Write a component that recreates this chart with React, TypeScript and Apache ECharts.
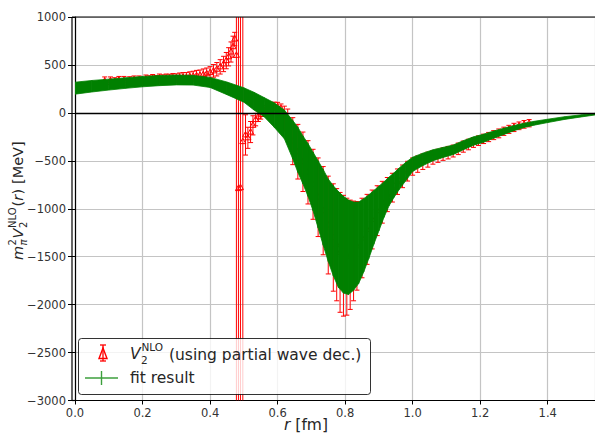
import { useEffect, useRef } from "react";
import * as echarts from "echarts";

const X_MIN = 0;
const X_MAX = 1.54;
const Y_MIN = -3000;
const Y_MAX = 1000;

// lattice points (red), value and error
const DATA_R = [
  0.088, 0.105, 0.118, 0.13, 0.145, 0.162, 0.175, 0.19, 0.2, 0.21, 0.22, 0.23, 0.24, 0.25, 0.26, 0.27, 0.28, 0.29, 0.3,
  0.31, 0.32, 0.33, 0.34, 0.35, 0.36, 0.37, 0.38, 0.39, 0.4, 0.41, 0.42, 0.43, 0.44, 0.448, 0.455, 0.462, 0.468, 0.473,
  0.478, 0.484, 0.49, 0.497,
  0.505, 0.512, 0.52, 0.527, 0.535, 0.543, 0.55, 0.558, 0.565, 0.573, 0.58, 0.59, 0.6, 0.61, 0.62, 0.63,
  0.645, 0.66, 0.675, 0.69, 0.705, 0.72, 0.735, 0.75, 0.765, 0.775, 0.785, 0.795, 0.805, 0.815, 0.825, 0.835, 0.85,
  0.865, 0.88, 0.895, 0.91, 0.925, 0.94, 0.955, 0.97, 0.985, 1.0, 1.015, 1.03, 1.045, 1.06, 1.075, 1.09, 1.105, 1.12,
  1.135, 1.15, 1.165, 1.18, 1.195, 1.21, 1.225, 1.24, 1.255, 1.27, 1.285, 1.3, 1.315, 1.33, 1.345,
];
const DATA_V = [
  330, 335, 325, 340, 335, 335, 345, 340, 330, 350, 345, 355, 350, 360, 355, 360, 358, 365, 362,
  368, 372, 370, 378, 382, 388, 392, 400, 408, 420, 438, 455, 480, 510, 545, 585, 635, 690, 770,
  600, -790, -780, -300,
  -230, -260, -200, -130, -70, -35, -15, 10, 30, 48, 60, 70, 65, 45, -60, -110,
  -295, -405, -510, -620, -745, -880, -1020, -1170, -1300, -1375, -1455, -1490, -1500, -1480, -1440, -1387, -1305,
  -1215, -1112, -1020, -932, -852, -780, -718, -662, -608, -560, -535, -510, -488, -465, -448, -430, -415, -398,
  -375, -352, -330, -309, -290, -271, -252, -232, -214, -192, -172, -152, -135, -120, -108,
];
const DATA_E = [
  45, 40, 42, 40, 45, 42, 40, 45, 40, 45, 42, 45, 40, 45, 42, 45, 45, 45, 45,
  48, 48, 50, 50, 52, 55, 55, 58, 60, 62, 66, 70, 75, 80, 85, 95, 105, 110, 70,
  5000, 4800, 4500, 4000,
  210, 110, 110, 100, 65, 55, 50, 48, 45, 45, 45, 42, 45, 48, 130, 150,
  245, 285, 310, 330, 365, 410, 460, 510, 560, 585, 625, 630, 610, 570, 520, 462, 415,
  365, 307, 260, 218, 178, 150, 133, 118, 103, 90, 85, 80, 78, 70, 68, 65, 65, 62,
  60, 58, 55, 51, 50, 49, 48, 47, 46, 43, 42, 43, 40, 40, 38,
];

// fit result band (green): upper and lower edge
const FIT_R = [
  0.0, 0.05, 0.1, 0.15, 0.2, 0.25, 0.3, 0.35, 0.4, 0.45, 0.5, 0.53, 0.56, 0.59, 0.62, 0.645, 0.66, 0.675, 0.69, 0.705,
  0.72, 0.735, 0.75, 0.765, 0.78, 0.795, 0.81, 0.825, 0.84, 0.855, 0.87, 0.885, 0.9, 0.915, 0.93, 0.945, 0.96, 0.98,
  1.0, 1.03, 1.06, 1.09, 1.12, 1.15, 1.18, 1.21, 1.24, 1.27, 1.3, 1.33, 1.36, 1.4, 1.45, 1.5, 1.54,
];
const FIT_HI = [
  320, 338, 352, 366, 380, 390, 395, 392, 370, 322, 262, 215, 160, 105, 30, -80, -150, -240, -320, -410,
  -500, -590, -690, -760, -820, -870, -910, -930, -930, -895, -855, -810, -765, -720, -670, -625, -575, -515,
  -462, -420, -385, -360, -335, -290, -250, -222, -190, -160, -132, -107, -88, -66, -40, -20, -5,
];
const FIT_LO = [
  195, 218, 238, 256, 272, 284, 292, 290, 265, 190, 112, 30, -40, -150, -270, -480, -620, -740, -870, -1020,
  -1200, -1380, -1550, -1700, -1820, -1880, -1895, -1850, -1780, -1660, -1520, -1370, -1230, -1090, -970, -880, -800, -705,
  -611, -550, -500, -465, -435, -385, -338, -306, -265, -225, -186, -152, -128, -101, -68, -42, -22,
];

const FONT = "DejaVu Sans";
const RED = "#ff0000";
const GREEN = "#008000";
const TXT = "#262626";

const fmtMinus = (s: string) => s.replace("-", "\u2212");

function txt(x: number, y: number, text: string, size: number, italic = false, extra: any = {}) {
  return {
    type: "text",
    x,
    y,
    z: 110,
    style: {
      text,
      fontSize: size,
      fontFamily: FONT,
      fontStyle: italic ? "italic" : "normal",
      fill: TXT,
      align: "left",
      verticalAlign: "middle",
      textAlign: "left",
      textVerticalAlign: "middle",
      ...extra,
    },
  };
}

export default function App() {
  const ref = useRef<HTMLDivElement>(null);

  useEffect(() => {
    if (!ref.current) return;
    const chart = echarts.init(ref.current, null, { renderer: "svg" });
    const clampY = (v: number) => Math.max(Y_MIN, Math.min(Y_MAX, v));

    const pointData = DATA_R.map((r, i) => [r, DATA_V[i], DATA_E[i]]);
    const bandData = FIT_R.slice(0, -1).map((r, i) => [
      r,
      FIT_LO[i],
      FIT_HI[i],
      FIT_R[i + 1],
      FIT_LO[i + 1],
      FIT_HI[i + 1],
    ]);

    const gridLine = { show: true, lineStyle: { color: "#c4c4c4", width: 1.2 } };

    const option: any = {
      animation: false,
      textStyle: { fontFamily: FONT },
      grid: {
        left: 75,
        top: 17,
        right: 0,
        bottom: 34.5,
        containLabel: false,
        outerBoundsMode: "none",
      },
      xAxis: {
        type: "value",
        min: X_MIN,
        max: X_MAX,
        interval: 0.2,
        axisLine: { show: true, onZero: false, lineStyle: { color: "#000", width: 1.2 } },
        axisTick: { show: true, length: 4, lineStyle: { color: "#000" } },
        axisLabel: {
          color: "#333",
          fontSize: 11.5,
          fontFamily: FONT,
          margin: 6,
          showMaxLabel: false,
          formatter: (v: number) => v.toFixed(1),
        },
        splitLine: gridLine,
      },
      yAxis: {
        type: "value",
        min: Y_MIN,
        max: Y_MAX,
        interval: 500,
        axisLine: { show: true, onZero: false, lineStyle: { color: "#000", width: 1.2 } },
        axisTick: { show: true, length: 7, lineStyle: { color: "#000" } },
        axisLabel: {
          color: "#333",
          fontSize: 11.5,
          fontFamily: FONT,
          margin: 9,
          formatter: (v: number) => fmtMinus(String(v)),
        },
        splitLine: gridLine,
      },
      series: [
        {
          type: "line",
          data: [],
          silent: true,
          markLine: {
            silent: true,
            symbol: "none",
            label: { show: false },
            lineStyle: { color: "#000", type: "solid", width: 1.3 },
            data: [{ yAxis: 0 }],
          },
        },
        {
          type: "custom",
          name: "data",
          clip: true,
          encode: { x: 0, y: 1 },
          data: pointData,
          renderItem: (_params: any, api: any) => {
            const r = api.value(0) as number;
            const v = api.value(1) as number;
            const e = api.value(2) as number;
            const lo = v - e;
            const hi = v + e;
            const pLo = api.coord([r, clampY(lo)]);
            const pHi = api.coord([r, clampY(hi)]);
            const c = api.coord([r, v]);
            const st = { stroke: RED, lineWidth: 1 };
            const cw = 2.5;
            const children: any[] = [
              { type: "line", shape: { x1: pLo[0], y1: pLo[1], x2: pHi[0], y2: pHi[1] }, style: st },
            ];
            if (lo >= Y_MIN)
              children.push({ type: "line", shape: { x1: pLo[0] - cw, y1: pLo[1], x2: pLo[0] + cw, y2: pLo[1] }, style: st });
            if (hi <= Y_MAX)
              children.push({ type: "line", shape: { x1: pHi[0] - cw, y1: pHi[1], x2: pHi[0] + cw, y2: pHi[1] }, style: st });
            if (v >= Y_MIN && v <= Y_MAX)
              children.push({
                type: "polygon",
                shape: { points: [[c[0], c[1] - 3.5], [c[0] - 3, c[1] + 2], [c[0] + 3, c[1] + 2]] },
                style: { fill: "none", stroke: RED, lineWidth: 1 },
              });
            return { type: "group", children };
          },
        },
        {
          type: "custom",
          name: "fit",
          clip: true,
          encode: { x: [0, 3], y: [1, 2, 4, 5] },
          data: bandData,
          renderItem: (_params: any, api: any) => {
            const p1 = api.coord([api.value(0), api.value(2)]);
            const p2 = api.coord([api.value(3), api.value(5)]);
            const p3 = api.coord([api.value(3), api.value(4)]);
            const p4 = api.coord([api.value(0), api.value(1)]);
            return {
              type: "polygon",
              shape: { points: [p1, p2, p3, p4] },
              style: { fill: GREEN, stroke: GREEN, lineWidth: 0.8 },
            };
          },
        },
      ],
      graphic: [
        // frame spines
        { type: "line", z: 90, shape: { x1: 72, y1: 17, x2: 72, y2: 400.5 }, style: { stroke: "#000", lineWidth: 1.2 } },
        { type: "line", z: 90, shape: { x1: 72, y1: 17, x2: 595, y2: 17 }, style: { stroke: "#000", lineWidth: 1.2 } },
        { type: "line", z: 90, shape: { x1: 72, y1: 400.5, x2: 75, y2: 400.5 }, style: { stroke: "#000", lineWidth: 1.2 } },
        // legend box
        {
          type: "rect",
          z: 100,
          shape: { x: 78.5, y: 338.5, width: 292, height: 56, r: 3 },
          style: { fill: "rgba(255,255,255,0.8)", stroke: "rgba(0,0,0,0.8)", lineWidth: 1 },
        },
        // legend symbol: data
        { type: "line", z: 105, shape: { x1: 103, y1: 345, x2: 103, y2: 361 }, style: { stroke: RED, lineWidth: 1.3 } },
        { type: "line", z: 105, shape: { x1: 100, y1: 345, x2: 106, y2: 345 }, style: { stroke: RED, lineWidth: 1.3 } },
        { type: "line", z: 105, shape: { x1: 100, y1: 361, x2: 106, y2: 361 }, style: { stroke: RED, lineWidth: 1.3 } },
        {
          type: "polygon",
          z: 105,
          shape: { points: [[103, 348], [99, 358.5], [107, 358.5]] },
          style: { fill: "none", stroke: RED, lineWidth: 1.4 },
        },
        // legend symbol: fit
        { type: "line", z: 105, shape: { x1: 85, y1: 378, x2: 118, y2: 378 }, style: { stroke: "#3c9f3c", lineWidth: 1.4 } },
        { type: "line", z: 105, shape: { x1: 101.5, y1: 371, x2: 101.5, y2: 385 }, style: { stroke: "#3c9f3c", lineWidth: 1.4 } },
        // legend texts
        txt(130, 354, "V", 15.5, true),
        txt(141, 360, "2", 10.5),
        txt(141.5, 347, "NLO", 10.5),
        txt(169, 355, "(using partial wave dec.)", 15.5),
        txt(130, 377.5, "fit result", 15.5),
        // x axis label
        {
          type: "text",
          x: 306,
          y: 425,
          z: 110,
          style: {
            text: "{i|r} [fm]",
            fontSize: 15.5,
            fontFamily: FONT,
            fill: TXT,
            align: "center",
            verticalAlign: "middle",
            textAlign: "center",
            textVerticalAlign: "middle",
            rich: { i: { fontStyle: "italic", fontSize: 15.5, fontFamily: FONT, fill: TXT } },
          },
        },
        // y axis label (rotated)
        {
          type: "group",
          x: 18,
          y: 202,
          rotation: Math.PI / 2,
          z: 110,
          children: [
            txt(-58, 0, "m", 14.5, true),
            txt(-43.5, 5, "\u03c0", 10, true),
            txt(-43.5, -6, "2", 10),
            txt(-36.5, 0, "V", 14.5, true),
            txt(-26, 5, "2", 10),
            txt(-26, -6, "NLO", 10),
            txt(-4.5, 0, "(", 14.5),
            txt(1.2, 0, "r", 14.5, true),
            txt(7.5, 0, ")", 14.5),
            txt(18, 0, "[MeV]", 14.5),
          ],
        },
      ],
    };

    chart.setOption(option);
    return () => chart.dispose();
  }, []);

  return <div ref={ref} style={{ position: "absolute", left: 0, top: 0, width: 595, height: 435 }} />;
}
